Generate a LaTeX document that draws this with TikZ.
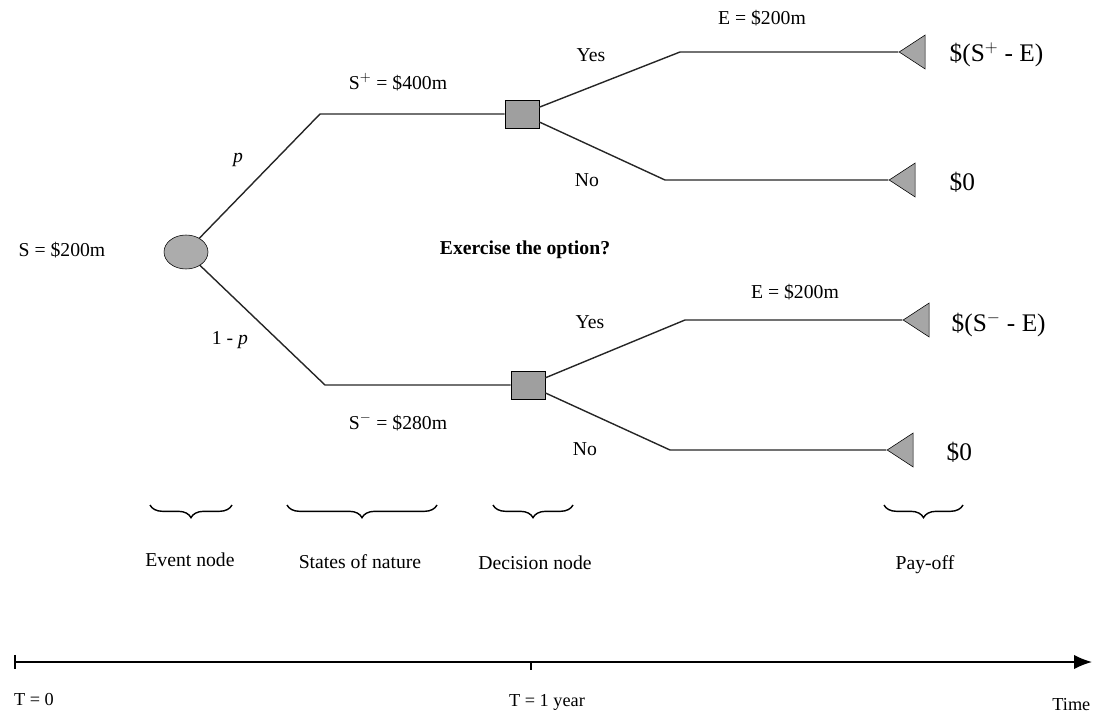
\documentclass[tikz,border=0pt]{standalone}
\usepackage{fontspec}
\setmainfont{Liberation Serif}
\usepackage{xcolor}
\usepackage{tikz}
\usetikzlibrary{arrows.meta,decorations.pathreplacing,shapes.geometric}

\begin{document}
\begin{tikzpicture}[
  eventnode/.style={draw,ellipse,fill=gray!65,minimum width=1.1cm,minimum height=0.85cm,inner sep=0pt},
  decisionnode/.style={draw,rectangle,fill=gray!75,minimum width=0.85cm,minimum height=0.7cm,inner sep=0pt},
  payoff/.style={draw,isosceles triangle,isosceles triangle stretches,shape border rotate=180,fill=gray!70,minimum width=0.85cm,minimum height=0.65cm,inner sep=0pt},
  branch/.style={line width=1pt,black!85},
  lbl/.style={font=\fontsize{14}{16}\selectfont,inner sep=1pt},
  paylbl/.style={font=\fontsize{18}{20}\selectfont,anchor=west,inner sep=1pt},
  brace/.style={decorate,decoration={brace,mirror,amplitude=9pt},line width=1pt},
  timeaxis/.style={-{Latex[length=4.5mm,width=3.6mm]},line width=1.1pt}
]
\useasboundingbox (0,0) rectangle (27.325,17.825);

% nodes of the tree
\node[eventnode] (event) at (4.65, 11.525) {};
\node[decisionnode] (updec) at (13.05, 14.975) {};
\node[decisionnode] (lowdec) at (13.2, 8.2) {};
\node[payoff] (upyes) at (22.9, 16.525) {};
\node[payoff] (upno) at (22.65, 13.325) {};
\node[payoff] (lowyes) at (23.0, 9.825) {};
\node[payoff] (lowno) at (22.6, 6.575) {};

\coordinate (upbend) at (8.0, 14.975);
\coordinate (lowbend) at (8.125, 8.2);
\coordinate (upyesbend) at (17.0, 16.525);
\coordinate (upnobend) at (16.625, 13.325);
\coordinate (lowyesbend) at (17.125, 9.825);
\coordinate (lownobend) at (16.75, 6.575);

\draw[branch] (event) -- (upbend) -- (updec);
\draw[branch] (event) -- (lowbend) -- (lowdec);
\draw[branch] (updec) -- (upyesbend) -- (upyes);
\draw[branch] (updec) -- (upnobend) -- (upno);
\draw[branch] (lowdec) -- (lowyesbend) -- (lowyes);
\draw[branch] (lowdec) -- (lownobend) -- (lowno);

% labels
\node[lbl] (spot) at (1.55, 11.575) {S = \$200m};
\node[lbl] (prob) at (5.95, 13.825) {\textit{p}};
\node[lbl] (probc) at (5.75, 9.325) {1 - \textit{p}};
\node[lbl] (sup) at (9.95, 15.775) {S$^{+}$ = \$400m};
\node[lbl] (sdown) at (9.95, 7.275) {S$^{-}$ = \$280m};
\node[lbl] (upyeslbl) at (14.775, 16.45) {Yes};
\node[lbl] (upnolbl) at (14.675, 13.325) {No};
\node[lbl] (lowyeslbl) at (14.75, 9.775) {Yes};
\node[lbl] (lownolbl) at (14.625, 6.6) {No};
\node[lbl] (upstrike) at (19.05, 17.375) {E = \$200m};
\node[lbl] (lowstrike) at (19.875, 10.525) {E = \$200m};
\node[lbl,font=\fontsize{14}{16}\selectfont\bfseries] (question) at (13.125, 11.575) {Exercise the option?};

\node[paylbl] (pay1) at (23.7, 16.45) {\$(S$^{+}$ - E)};
\node[paylbl] (pay2) at (23.7, 13.275) {\$0};
\node[paylbl] (pay3) at (23.75, 9.7) {\$(S$^{-}$ - E)};
\node[paylbl] (pay4) at (23.625, 6.525) {\$0};

% legend braces
\coordinate (b1l) at (3.75, 5.2);
\coordinate (b1r) at (5.8, 5.2);
\coordinate (b2l) at (7.175, 5.2);
\coordinate (b2r) at (10.925, 5.2);
\coordinate (b3l) at (12.325, 5.2);
\coordinate (b3r) at (14.325, 5.2);
\coordinate (b4l) at (22.1, 5.2);
\coordinate (b4r) at (24.075, 5.2);
\draw[brace] (b1l) -- (b1r);
\draw[brace] (b2l) -- (b2r);
\draw[brace] (b3l) -- (b3r);
\draw[brace] (b4l) -- (b4r);
\node[lbl] (evtxt) at (4.75, 3.825) {Event node};
\node[lbl] (sttxt) at (9.0, 3.775) {States of nature};
\node[lbl] (dectxt) at (13.375, 3.75) {Decision node};
\node[lbl] (paytxt) at (23.125, 3.7) {Pay-off};

% time axis
\coordinate (t0) at (0.375, 1.275);
\coordinate (t1) at (13.275, 1.275);
\coordinate (tend) at (27.3, 1.275);
\draw[timeaxis] (t0) -- (tend);
\draw[line width=0.9pt] ([yshift=5pt]t0) -- ([yshift=-5pt]t0);
\draw[line width=0.9pt] (t1) -- ([yshift=-6pt]t1);
\node[lbl,font=\fontsize{13}{15}\selectfont] (tzero) at (0.85, 0.325) {T = 0};
\node[lbl,font=\fontsize{13}{15}\selectfont] (tone) at (13.675, 0.275) {T = 1 year};
\node[lbl,font=\fontsize{13}{15}\selectfont,anchor=east] (ttime) at (27.3, 0.2) {Time};
\end{tikzpicture}
\end{document}
